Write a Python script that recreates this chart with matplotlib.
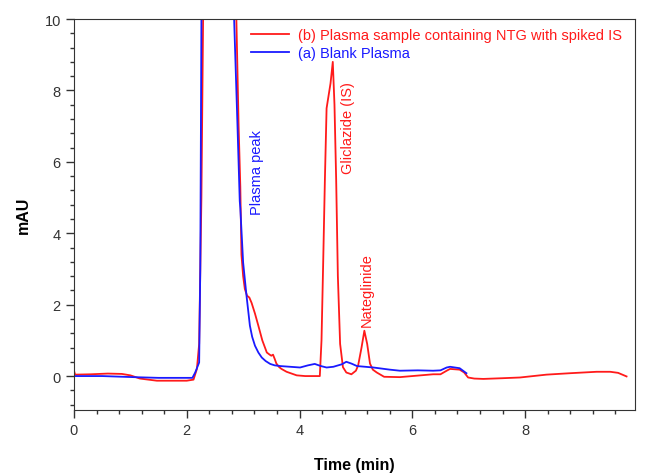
import matplotlib
matplotlib.use('Agg')
import matplotlib.pyplot as plt
from matplotlib.ticker import MultipleLocator

plt.rcParams['font.family'] = ['Liberation Sans', 'DejaVu Sans']

# (b) plasma sample containing NTG with spiked IS
red_x = [0.0, 0.02, 0.3, 0.6, 0.85, 1.0, 1.17, 1.47, 2.0, 2.12, 2.18, 2.22, 2.26, 2.29, 2.31,
         2.6, 2.87, 2.88, 2.92, 2.95, 2.97, 3.0, 3.03, 3.07, 3.11, 3.15, 3.21, 3.27, 3.34,
         3.42, 3.47, 3.5, 3.53, 3.56, 3.59, 3.64, 3.68, 3.77, 3.86, 3.95, 4.1, 4.36, 4.39,
         4.42, 4.45, 4.48, 4.52, 4.55, 4.59, 4.62, 4.65, 4.68, 4.72, 4.77, 4.83, 4.92, 5.0,
         5.04, 5.1, 5.15, 5.2, 5.25, 5.3, 5.37, 5.5, 5.78, 6.0, 6.37, 6.5, 6.61, 6.67, 6.84,
         6.92, 6.99, 7.1, 7.26, 7.6, 7.91, 8.38, 8.8, 9.27, 9.51, 9.65, 9.8]
red_y = [0.15, 0.04, 0.05, 0.07, 0.06, 0.02, -0.07, -0.13, -0.13, -0.1, 0.2, 0.9, 5.0, 10.0, 14.0,
         30.0, 14.0, 10.0, 7.0, 5.3, 3.4, 2.8, 2.44, 2.25, 2.2, 2.05, 1.75, 1.41, 1.0,
         0.66, 0.6, 0.57, 0.6, 0.48, 0.35, 0.25, 0.2, 0.12, 0.07, 0.02, 0.0, 0.0, 1.0,
         3.2, 5.5, 7.5, 7.9, 8.2, 8.8, 7.6, 5.5, 2.8, 0.9, 0.25, 0.1, 0.05, 0.15,
         0.3, 0.8, 1.27, 0.9, 0.35, 0.18, 0.1, -0.02, -0.03, 0.0, 0.05, 0.05, 0.15, 0.2, 0.18,
         0.1, -0.04, -0.07, -0.08, -0.06, -0.04, 0.04, 0.08, 0.12, 0.12, 0.09, -0.01]

# (a) blank plasma
blue_x = [0.0, 0.5, 1.06, 1.5, 2.1, 2.15, 2.22, 2.24, 2.26, 2.28, 2.55, 2.82, 2.84, 2.9,
          2.94, 2.95, 3.0, 3.06, 3.12, 3.16, 3.21, 3.27, 3.33, 3.4, 3.48, 3.56, 3.66, 4.01,
          4.15, 4.27, 4.38, 4.48, 4.6, 4.75, 4.83, 4.92, 5.02, 5.31, 5.6, 5.78, 6.1, 6.37,
          6.5, 6.61, 6.67, 6.84, 6.96]
blue_y = [0.0, 0.0, -0.03, -0.05, -0.05, 0.1, 0.38, 3.0, 10.0, 14.0, 30.0, 12.0, 10.0, 7.0,
          4.9, 4.7, 3.18, 2.25, 1.41, 1.1, 0.85, 0.66, 0.52, 0.42, 0.34, 0.3, 0.28, 0.24,
          0.3, 0.34, 0.28, 0.24, 0.26, 0.33, 0.4, 0.35, 0.28, 0.24, 0.18, 0.15, 0.16, 0.15,
          0.16, 0.24, 0.26, 0.22, 0.08]

red_label = '(b) Plasma sample containing NTG with spiked IS'
blue_label = '(a) Blank Plasma'

fig = plt.figure(figsize=(6.45, 4.77), dpi=100)
ax = fig.add_axes([0.1147, 0.1384, 0.8698, 0.8196])

ax.plot(red_x, red_y, color='#ff1a1a', lw=1.3, label=red_label)
ax.plot(blue_x, blue_y, color='#1a1aff', lw=1.3, label=blue_label)

ax.set_xlim(0, 9.95)
ax.set_ylim(-0.95, 10)
ax.xaxis.set_major_locator(MultipleLocator(2))
ax.xaxis.set_minor_locator(MultipleLocator(0.4))
ax.yaxis.set_minor_locator(MultipleLocator(0.4))
ax.set_yticks([0, 2, 4, 6, 8, 10])
ax.tick_params(which='major', direction='out', length=6, width=1, labelsize=10.5, colors='#333333')
ax.tick_params(which='minor', direction='out', length=3, width=1, colors='#333333')
for s in ax.spines.values():
    s.set_color('#333333')

ax.set_xlabel('Time (min)', fontsize=11.5, fontweight='bold', labelpad=14)
ax.set_ylabel('mAU', fontsize=11.5, fontweight='bold', labelpad=10)

ax.text(3.24, 4.55, 'Plasma peak', rotation=90, color='#1a1aff', fontsize=10.5,
        ha='center', va='bottom')
ax.text(4.86, 5.7, 'Gliclazide (IS)', rotation=90, color='#ff1a1a', fontsize=10.5,
        ha='center', va='bottom')
ax.text(5.19, 1.4, 'Nateglinide', rotation=90, color='#ff1a1a', fontsize=10.5,
        ha='center', va='bottom')

ax.legend(loc='upper right', bbox_to_anchor=(1.0, 1.01), frameon=False,
          fontsize=10.5, handlelength=2.6, handletextpad=0.6, labelspacing=0.25,
          labelcolor='linecolor')

fig.savefig('out.png', dpi=100)
